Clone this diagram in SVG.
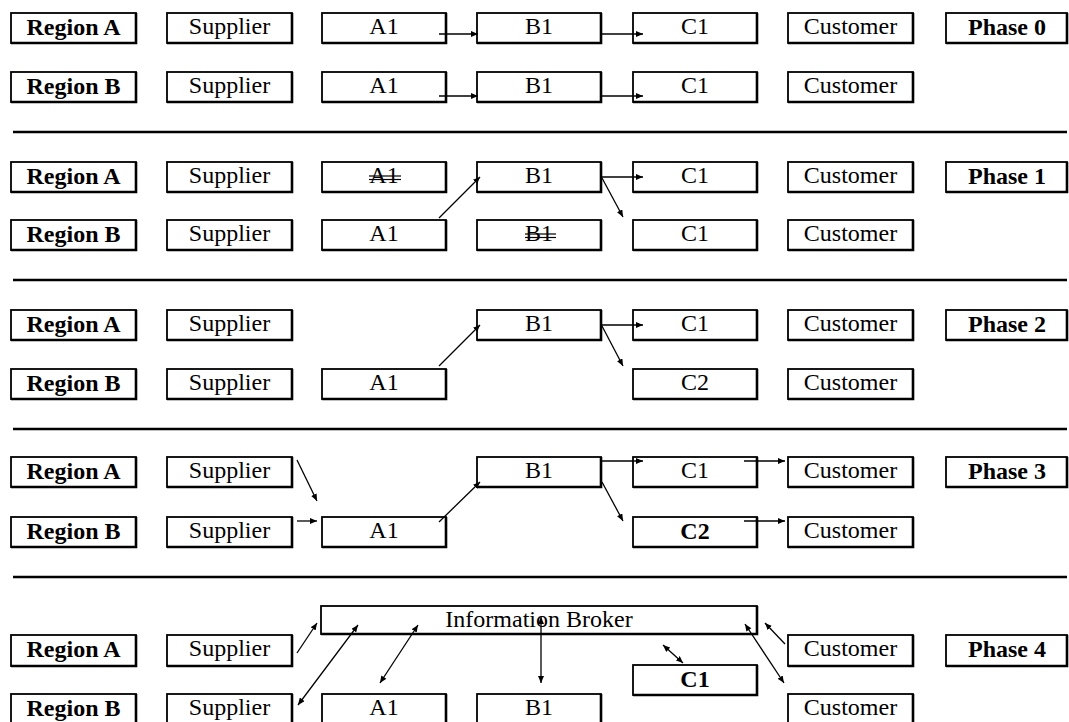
<svg xmlns="http://www.w3.org/2000/svg" width="1069" height="722" viewBox="0 0 1069 722">
<style>
.box{fill:#fff;stroke:#000;stroke-width:1.8}
.sh{fill:none;stroke:#000;stroke-width:2.6}
.t{font-family:"Liberation Serif","Times New Roman",serif;font-size:24px;fill:#000;text-anchor:middle}
.b{font-weight:bold}
.sep{stroke:#000;stroke-width:2.4}
.c{stroke:#000;stroke-width:1.3;fill:none;marker-end:url(#ah)}
.d{stroke:#000;stroke-width:1.3;fill:none;marker-end:url(#ah);marker-start:url(#ahs)}
.strike{stroke:#000;stroke-width:1.2}
</style>
<defs>
<marker id="ah" markerUnits="userSpaceOnUse" markerWidth="8" markerHeight="6" refX="7" refY="3" orient="auto"><path d="M0,0 L7,3 L0,6 z" fill="#000"/></marker>
<marker id="ahs" markerUnits="userSpaceOnUse" markerWidth="8" markerHeight="6" refX="0" refY="3" orient="auto"><path d="M7,0 L0,3 L7,6 z" fill="#000"/></marker>
</defs>
<rect width="1069" height="722" fill="#fff"/>

<g id="separators">
<line class="sep" x1="13" y1="132" x2="1067" y2="132"/>
<line class="sep" x1="13" y1="280" x2="1067" y2="280"/>
<line class="sep" x1="13" y1="429" x2="1067" y2="429"/>
<line class="sep" x1="13" y1="577" x2="1067" y2="577"/>
</g>

<!-- Phase 0 -->
<g id="p0-regionA"><rect class="box" x="11" y="13" width="125" height="30"/><path class="sh" d="M136,13 V43 H11"/><text class="t b" x="73.5" y="35">Region A</text></g>
<g id="p0-supplierA"><rect class="box" x="167" y="13" width="125" height="30"/><path class="sh" d="M292,13 V43 H167"/><text class="t" x="229.5" y="34">Supplier</text></g>
<g id="p0-a1A"><rect class="box" x="322" y="13" width="124" height="30"/><path class="sh" d="M446,13 V43 H322"/><text class="t" x="384" y="34">A1</text></g>
<g id="p0-b1A"><rect class="box" x="477" y="13" width="124" height="30"/><path class="sh" d="M601,13 V43 H477"/><text class="t" x="539" y="34">B1</text></g>
<g id="p0-c1A"><rect class="box" x="633" y="13" width="124" height="30"/><path class="sh" d="M757,13 V43 H633"/><text class="t" x="695" y="34">C1</text></g>
<g id="p0-customerA"><rect class="box" x="788" y="13" width="125" height="30"/><path class="sh" d="M913,13 V43 H788"/><text class="t" x="850.5" y="34">Customer</text></g>
<g id="p0-phase"><rect class="box" x="946" y="13" width="121" height="30"/><path class="sh" d="M1067,13 V43 H946"/><text class="t b" x="1007" y="35">Phase 0</text></g>

<g id="p0-regionB"><rect class="box" x="11" y="72" width="125" height="30"/><path class="sh" d="M136,72 V102 H11"/><text class="t b" x="73.5" y="94">Region B</text></g>
<g id="p0-supplierB"><rect class="box" x="167" y="72" width="125" height="30"/><path class="sh" d="M292,72 V102 H167"/><text class="t" x="229.5" y="93">Supplier</text></g>
<g id="p0-a1B"><rect class="box" x="322" y="72" width="124" height="30"/><path class="sh" d="M446,72 V102 H322"/><text class="t" x="384" y="93">A1</text></g>
<g id="p0-b1B"><rect class="box" x="477" y="72" width="124" height="30"/><path class="sh" d="M601,72 V102 H477"/><text class="t" x="539" y="93">B1</text></g>
<g id="p0-c1B"><rect class="box" x="633" y="72" width="124" height="30"/><path class="sh" d="M757,72 V102 H633"/><text class="t" x="695" y="93">C1</text></g>
<g id="p0-customerB"><rect class="box" x="788" y="72" width="125" height="30"/><path class="sh" d="M913,72 V102 H788"/><text class="t" x="850.5" y="93">Customer</text></g>

<!-- Phase 1 -->
<g id="p1-regionA"><rect class="box" x="11" y="162" width="125" height="30"/><path class="sh" d="M136,162 V192 H11"/><text class="t b" x="73.5" y="184">Region A</text></g>
<g id="p1-supplierA"><rect class="box" x="167" y="162" width="125" height="30"/><path class="sh" d="M292,162 V192 H167"/><text class="t" x="229.5" y="183">Supplier</text></g>
<g id="p1-a1A"><rect class="box" x="322" y="162" width="124" height="30"/><path class="sh" d="M446,162 V192 H322"/><text class="t" x="384" y="183">A1</text><line class="strike" x1="369" y1="176" x2="401" y2="176"/><line class="strike" x1="369" y1="179.5" x2="401" y2="179.5"/></g>
<g id="p1-b1A"><rect class="box" x="477" y="162" width="124" height="30"/><path class="sh" d="M601,162 V192 H477"/><text class="t" x="539" y="183">B1</text></g>
<g id="p1-c1A"><rect class="box" x="633" y="162" width="124" height="30"/><path class="sh" d="M757,162 V192 H633"/><text class="t" x="695" y="183">C1</text></g>
<g id="p1-customerA"><rect class="box" x="788" y="162" width="125" height="30"/><path class="sh" d="M913,162 V192 H788"/><text class="t" x="850.5" y="183">Customer</text></g>
<g id="p1-phase"><rect class="box" x="946" y="162" width="121" height="30"/><path class="sh" d="M1067,162 V192 H946"/><text class="t b" x="1007" y="184">Phase 1</text></g>

<g id="p1-regionB"><rect class="box" x="11" y="220" width="125" height="30"/><path class="sh" d="M136,220 V250 H11"/><text class="t b" x="73.5" y="242">Region B</text></g>
<g id="p1-supplierB"><rect class="box" x="167" y="220" width="125" height="30"/><path class="sh" d="M292,220 V250 H167"/><text class="t" x="229.5" y="241">Supplier</text></g>
<g id="p1-a1B"><rect class="box" x="322" y="220" width="124" height="30"/><path class="sh" d="M446,220 V250 H322"/><text class="t" x="384" y="241">A1</text></g>
<g id="p1-b1B"><rect class="box" x="477" y="220" width="124" height="30"/><path class="sh" d="M601,220 V250 H477"/><text class="t" x="539" y="241">B1</text><line class="strike" x1="525" y1="234" x2="556" y2="234"/><line class="strike" x1="525" y1="237.5" x2="556" y2="237.5"/></g>
<g id="p1-c1B"><rect class="box" x="633" y="220" width="124" height="30"/><path class="sh" d="M757,220 V250 H633"/><text class="t" x="695" y="241">C1</text></g>
<g id="p1-customerB"><rect class="box" x="788" y="220" width="125" height="30"/><path class="sh" d="M913,220 V250 H788"/><text class="t" x="850.5" y="241">Customer</text></g>

<!-- Phase 2 -->
<g id="p2-regionA"><rect class="box" x="11" y="310" width="125" height="30"/><path class="sh" d="M136,310 V340 H11"/><text class="t b" x="73.5" y="332">Region A</text></g>
<g id="p2-supplierA"><rect class="box" x="167" y="310" width="125" height="30"/><path class="sh" d="M292,310 V340 H167"/><text class="t" x="229.5" y="331">Supplier</text></g>
<g id="p2-b1A"><rect class="box" x="477" y="310" width="124" height="30"/><path class="sh" d="M601,310 V340 H477"/><text class="t" x="539" y="331">B1</text></g>
<g id="p2-c1A"><rect class="box" x="633" y="310" width="124" height="30"/><path class="sh" d="M757,310 V340 H633"/><text class="t" x="695" y="331">C1</text></g>
<g id="p2-customerA"><rect class="box" x="788" y="310" width="125" height="30"/><path class="sh" d="M913,310 V340 H788"/><text class="t" x="850.5" y="331">Customer</text></g>
<g id="p2-phase"><rect class="box" x="946" y="310" width="121" height="30"/><path class="sh" d="M1067,310 V340 H946"/><text class="t b" x="1007" y="332">Phase 2</text></g>

<g id="p2-regionB"><rect class="box" x="11" y="369" width="125" height="30"/><path class="sh" d="M136,369 V399 H11"/><text class="t b" x="73.5" y="391">Region B</text></g>
<g id="p2-supplierB"><rect class="box" x="167" y="369" width="125" height="30"/><path class="sh" d="M292,369 V399 H167"/><text class="t" x="229.5" y="390">Supplier</text></g>
<g id="p2-a1B"><rect class="box" x="322" y="369" width="124" height="30"/><path class="sh" d="M446,369 V399 H322"/><text class="t" x="384" y="390">A1</text></g>
<g id="p2-c2B"><rect class="box" x="633" y="369" width="124" height="30"/><path class="sh" d="M757,369 V399 H633"/><text class="t" x="695" y="390">C2</text></g>
<g id="p2-customerB"><rect class="box" x="788" y="369" width="125" height="30"/><path class="sh" d="M913,369 V399 H788"/><text class="t" x="850.5" y="390">Customer</text></g>

<!-- Phase 3 -->
<g id="p3-regionA"><rect class="box" x="11" y="457" width="125" height="30"/><path class="sh" d="M136,457 V487 H11"/><text class="t b" x="73.5" y="479">Region A</text></g>
<g id="p3-supplierA"><rect class="box" x="167" y="457" width="125" height="30"/><path class="sh" d="M292,457 V487 H167"/><text class="t" x="229.5" y="478">Supplier</text></g>
<g id="p3-b1A"><rect class="box" x="477" y="457" width="124" height="30"/><path class="sh" d="M601,457 V487 H477"/><text class="t" x="539" y="478">B1</text></g>
<g id="p3-c1A"><rect class="box" x="633" y="457" width="124" height="30"/><path class="sh" d="M757,457 V487 H633"/><text class="t" x="695" y="478">C1</text></g>
<g id="p3-customerA"><rect class="box" x="788" y="457" width="125" height="30"/><path class="sh" d="M913,457 V487 H788"/><text class="t" x="850.5" y="478">Customer</text></g>
<g id="p3-phase"><rect class="box" x="946" y="457" width="121" height="30"/><path class="sh" d="M1067,457 V487 H946"/><text class="t b" x="1007" y="479">Phase 3</text></g>

<g id="p3-regionB"><rect class="box" x="11" y="517" width="125" height="30"/><path class="sh" d="M136,517 V547 H11"/><text class="t b" x="73.5" y="539">Region B</text></g>
<g id="p3-supplierB"><rect class="box" x="167" y="517" width="125" height="30"/><path class="sh" d="M292,517 V547 H167"/><text class="t" x="229.5" y="538">Supplier</text></g>
<g id="p3-a1B"><rect class="box" x="322" y="517" width="124" height="30"/><path class="sh" d="M446,517 V547 H322"/><text class="t" x="384" y="538">A1</text></g>
<g id="p3-c2B"><rect class="box" x="633" y="517" width="124" height="30"/><path class="sh" d="M757,517 V547 H633"/><text class="t b" x="695" y="539">C2</text></g>
<g id="p3-customerB"><rect class="box" x="788" y="517" width="125" height="30"/><path class="sh" d="M913,517 V547 H788"/><text class="t" x="850.5" y="538">Customer</text></g>

<!-- Phase 4 -->
<g id="p4-broker"><rect class="box" x="321" y="606" width="436" height="28"/><path class="sh" d="M757,606 V634 H321"/><text class="t" x="539" y="627">Information Broker</text></g>
<g id="p4-regionA"><rect class="box" x="11" y="635" width="125" height="31"/><path class="sh" d="M136,635 V666 H11"/><text class="t b" x="73.5" y="657">Region A</text></g>
<g id="p4-supplierA"><rect class="box" x="167" y="635" width="125" height="31"/><path class="sh" d="M292,635 V666 H167"/><text class="t" x="229.5" y="656">Supplier</text></g>
<g id="p4-customerA"><rect class="box" x="788" y="635" width="125" height="31"/><path class="sh" d="M913,635 V666 H788"/><text class="t" x="850.5" y="656">Customer</text></g>
<g id="p4-phase"><rect class="box" x="946" y="635" width="121" height="31"/><path class="sh" d="M1067,635 V666 H946"/><text class="t b" x="1007" y="657">Phase 4</text></g>
<g id="p4-c1"><rect class="box" x="633" y="665" width="124" height="30"/><path class="sh" d="M757,665 V695 H633"/><text class="t b" x="695" y="687">C1</text></g>
<g id="p4-regionB"><rect class="box" x="11" y="694" width="125" height="30"/><path class="sh" d="M136,694 V724 H11"/><text class="t b" x="73.5" y="716">Region B</text></g>
<g id="p4-supplierB"><rect class="box" x="167" y="694" width="125" height="30"/><path class="sh" d="M292,694 V724 H167"/><text class="t" x="229.5" y="715">Supplier</text></g>
<g id="p4-a1B"><rect class="box" x="322" y="694" width="124" height="30"/><path class="sh" d="M446,694 V724 H322"/><text class="t" x="384" y="715">A1</text></g>
<g id="p4-b1B"><rect class="box" x="477" y="694" width="124" height="30"/><path class="sh" d="M601,694 V724 H477"/><text class="t" x="539" y="715">B1</text></g>
<g id="p4-customerB"><rect class="box" x="788" y="694" width="125" height="30"/><path class="sh" d="M913,694 V724 H788"/><text class="t" x="850.5" y="715">Customer</text></g>

<g id="connectors">
<line class="c" x1="439" y1="34" x2="478" y2="34"/>
<line class="c" x1="601" y1="34" x2="643" y2="34"/>
<line class="c" x1="439" y1="96" x2="478" y2="96"/>
<line class="c" x1="601" y1="96" x2="643" y2="96"/>

<line class="c" x1="439" y1="218" x2="480" y2="177"/>
<line class="c" x1="602" y1="177" x2="643" y2="177"/>
<line class="c" x1="602" y1="178" x2="623" y2="217"/>

<line class="c" x1="439" y1="366" x2="480" y2="325"/>
<line class="c" x1="602" y1="325" x2="643" y2="325"/>
<line class="c" x1="602" y1="326" x2="623" y2="366"/>

<line class="c" x1="297" y1="460" x2="317" y2="501"/>
<line class="c" x1="297" y1="521" x2="317" y2="521"/>
<line class="c" x1="439" y1="522" x2="480" y2="482"/>
<line class="c" x1="602" y1="461" x2="643" y2="461"/>
<line class="c" x1="744" y1="461" x2="785" y2="461"/>
<line class="c" x1="602" y1="482" x2="623" y2="521"/>
<line class="c" x1="744" y1="521" x2="785" y2="521"/>

<line class="c" x1="297" y1="653" x2="317" y2="623"/>
<line class="d" x1="298" y1="705" x2="358" y2="625"/>
<line class="d" x1="380" y1="683" x2="418" y2="625"/>
<line class="d" x1="541" y1="617" x2="541" y2="683"/>
<line class="d" x1="663" y1="645" x2="683" y2="663"/>
<line class="c" x1="785" y1="644" x2="765" y2="623"/>
<line class="d" x1="745" y1="624" x2="784" y2="683"/>
</g>
</svg>
